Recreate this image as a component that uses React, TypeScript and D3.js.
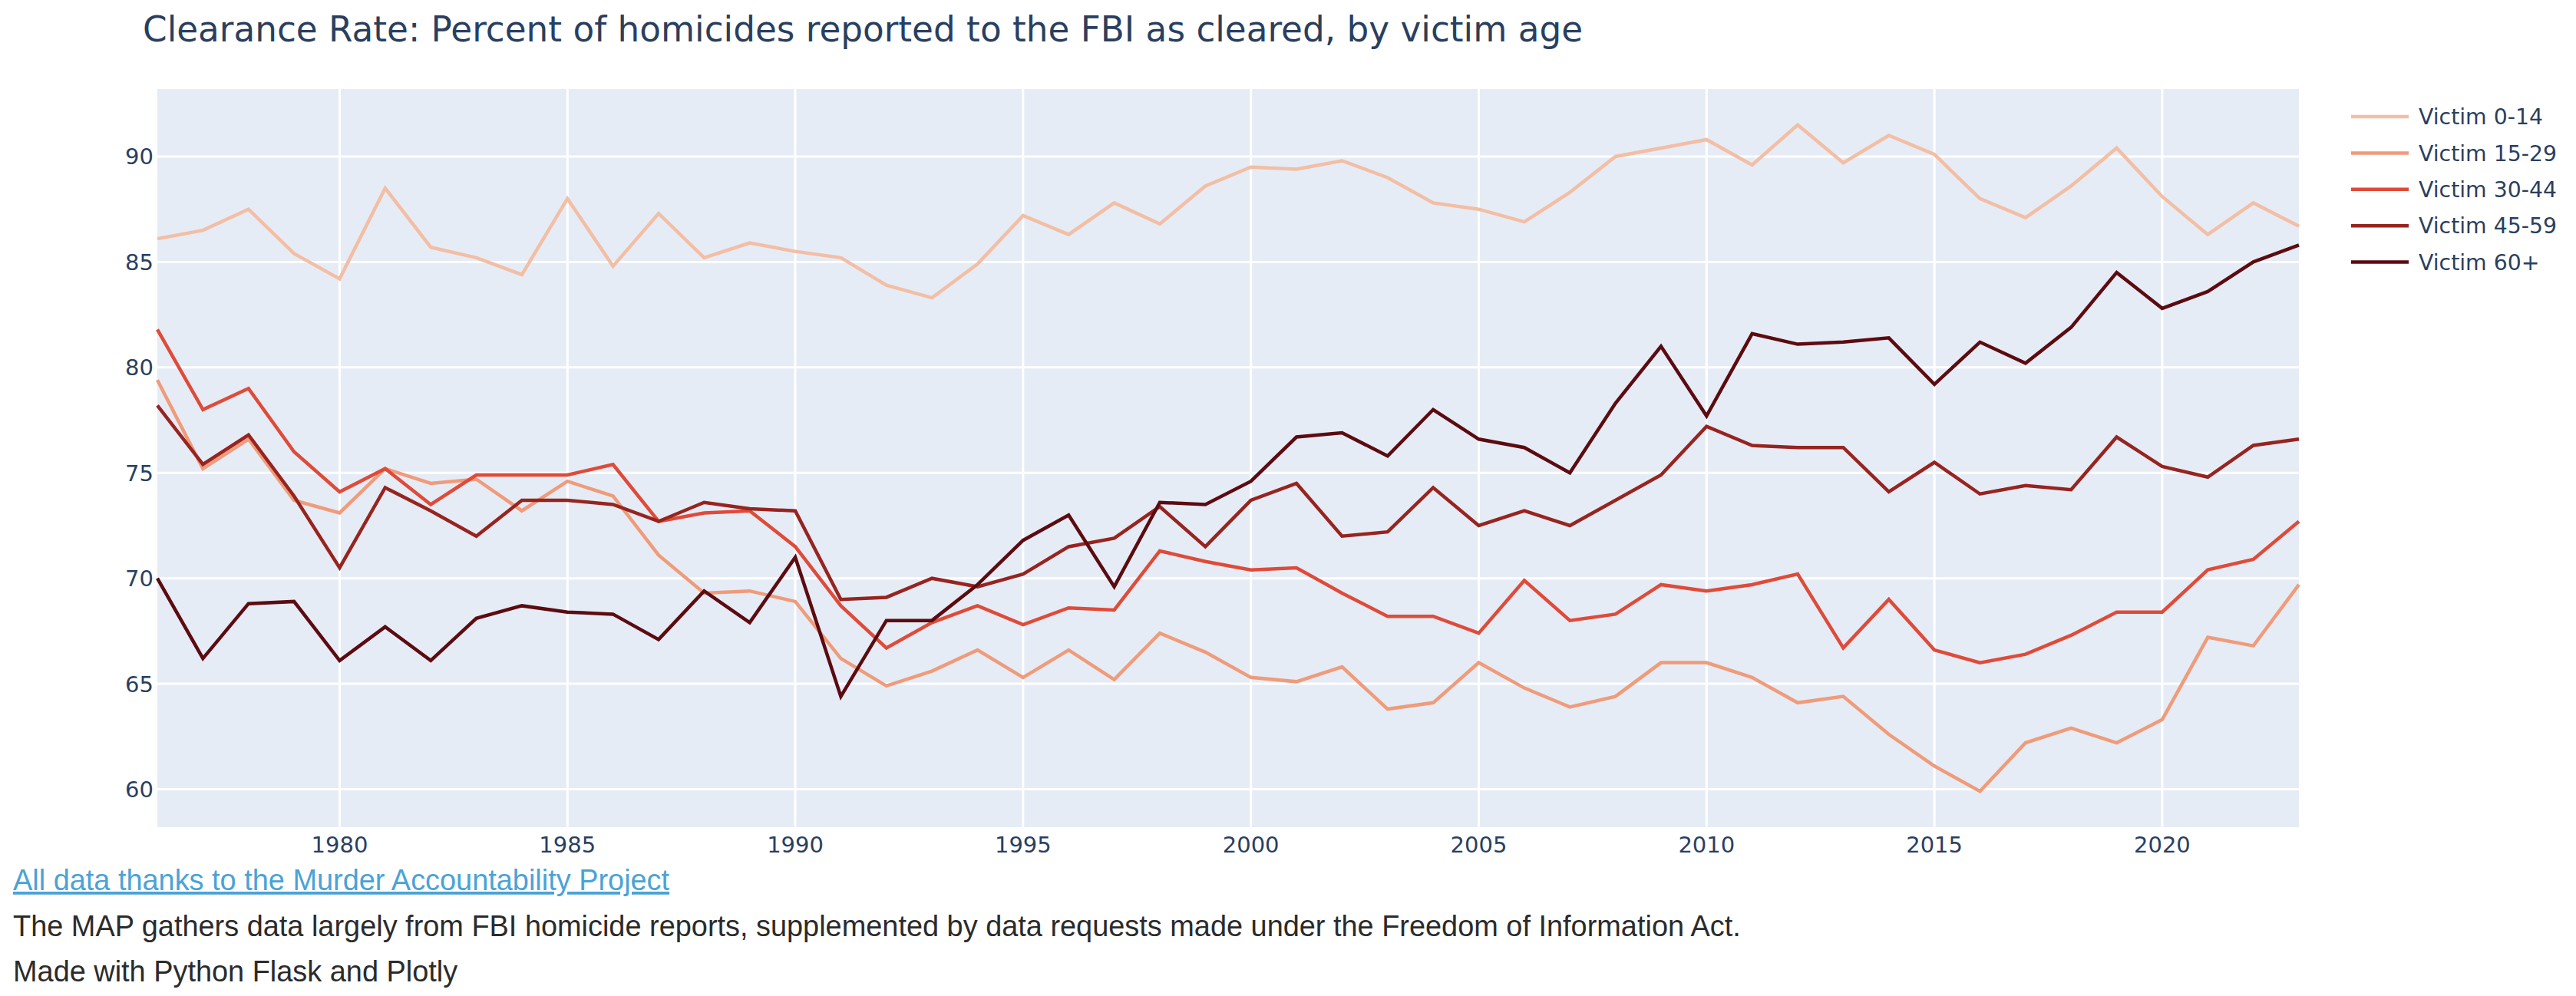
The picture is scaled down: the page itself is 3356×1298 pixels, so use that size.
import * as d3 from "d3";

const years = [
  1976, 1977, 1978, 1979, 1980, 1981, 1982, 1983, 1984, 1985, 1986, 1987,
  1988, 1989, 1990, 1991, 1992, 1993, 1994, 1995, 1996, 1997, 1998, 1999,
  2000, 2001, 2002, 2003, 2004, 2005, 2006, 2007, 2008, 2009, 2010, 2011,
  2012, 2013, 2014, 2015, 2016, 2017, 2018, 2019, 2020, 2021, 2022, 2023,
];

const victim0to14 = [
  86.1, 86.5, 87.5, 85.4, 84.2, 88.5, 85.7, 85.2, 84.4, 88.0, 84.8, 87.3,
  85.2, 85.9, 85.5, 85.2, 83.9, 83.3, 84.9, 87.2, 86.3, 87.8, 86.8, 88.6,
  89.5, 89.4, 89.8, 89.0, 87.8, 87.5, 86.9, 88.3, 90.0, 90.4, 90.8, 89.6,
  91.5, 89.7, 91.0, 90.1, 88.0, 87.1, 88.6, 90.4, 88.1, 86.3, 87.8, 86.7,
];
const victim15to29 = [
  79.4, 75.2, 76.6, 73.7, 73.1, 75.2, 74.5, 74.7, 73.2, 74.6, 73.9, 71.1,
  69.3, 69.4, 68.9, 66.2, 64.9, 65.6, 66.6, 65.3, 66.6, 65.2, 67.4, 66.5,
  65.3, 65.1, 65.8, 63.8, 64.1, 66.0, 64.8, 63.9, 64.4, 66.0, 66.0, 65.3,
  64.1, 64.4, 62.6, 61.1, 59.9, 62.2, 62.9, 62.2, 63.3, 67.2, 66.8, 69.7,
];
const victim30to44 = [
  81.8, 78.0, 79.0, 76.0, 74.1, 75.2, 73.5, 74.9, 74.9, 74.9, 75.4, 72.7,
  73.1, 73.2, 71.5, 68.7, 66.7, 67.9, 68.7, 67.8, 68.6, 68.5, 71.3, 70.8,
  70.4, 70.5, 69.3, 68.2, 68.2, 67.4, 69.9, 68.0, 68.3, 69.7, 69.4, 69.7,
  70.2, 66.7, 69.0, 66.6, 66.0, 66.4, 67.3, 68.4, 68.4, 70.4, 70.9, 72.7,
];
const victim45to59 = [
  78.2, 75.4, 76.8, 73.9, 70.5, 74.3, 73.2, 72.0, 73.7, 73.7, 73.5, 72.7,
  73.6, 73.3, 73.2, 69.0, 69.1, 70.0, 69.6, 70.2, 71.5, 71.9, 73.4, 71.5,
  73.7, 74.5, 72.0, 72.2, 74.3, 72.5, 73.2, 72.5, 73.7, 74.9, 77.2, 76.3,
  76.2, 76.2, 74.1, 75.5, 74.0, 74.4, 74.2, 76.7, 75.3, 74.8, 76.3, 76.6,
];
const victim60plus = [
  70.0, 66.2, 68.8, 68.9, 66.1, 67.7, 66.1, 68.1, 68.7, 68.4, 68.3, 67.1,
  69.4, 67.9, 71.0, 64.4, 68.0, 68.0, 69.7, 71.8, 73.0, 69.6, 73.6, 73.5,
  74.6, 76.7, 76.9, 75.8, 78.0, 76.6, 76.2, 75.0, 78.3, 81.0, 77.7, 81.6,
  81.1, 81.2, 81.4, 79.2, 81.2, 80.2, 81.9, 84.5, 82.8, 83.6, 85.0, 85.8,
];

const seriesNames = ["Victim 0-14", "Victim 15-29", "Victim 30-44", "Victim 45-59", "Victim 60+"];
const seriesValues = [victim0to14, victim15to29, victim30to44, victim45to59, victim60plus];
const seriesColors = ["#f3bea4", "#f09b7a", "#df4b39", "#97241f", "#5c0b10"];

const xTicks = [1980, 1985, 1990, 1995, 2000, 2005, 2010, 2015, 2020];
const yTicks = [60, 65, 70, 75, 80, 85, 90];

const W = 3356;
const H = 1298;
const plot = { left: 205, right: 2995, top: 116, bottom: 1078 };
const fontAxis = "'DejaVu Sans', Verdana, sans-serif";
const fontFoot = "'Liberation Sans', Arial, Helvetica, sans-serif";
const ink = "#2a3f5f";

export default function App() {
  const x = d3.scaleLinear().domain([1976, 2023]).range([plot.left, plot.right]);
  const y = d3.scaleLinear().domain([58.2, 93.2]).range([plot.bottom, plot.top]);

  const line = d3
    .line<number>()
    .x((_, i) => x(years[i]))
    .y((d) => y(d));

  return (
    <div style={{ position: "absolute", left: 0, top: 0, width: W, height: H, background: "#fff" }}>
      <svg width={W} height={H}>
        {/* 제목 */}
        <text x={186} y={54} fontFamily={fontAxis} fontSize={45.3} fill={ink}>
          Clearance Rate: Percent of homicides reported to the FBI as cleared, by victim age
        </text>

        {/* 배경 */}
        <rect
          x={plot.left}
          y={plot.top}
          width={plot.right - plot.left}
          height={plot.bottom - plot.top}
          fill="#e5ecf6"
        />

        {/* 그리드 */}
        {xTicks.map((t) => (
          <line key={"gx" + t} x1={x(t)} x2={x(t)} y1={plot.top} y2={plot.bottom} stroke="#fff" strokeWidth={3} />
        ))}
        {yTicks.map((t) => (
          <line key={"gy" + t} x1={plot.left} x2={plot.right} y1={y(t)} y2={y(t)} stroke="#fff" strokeWidth={3} />
        ))}

        {/* 선 */}
        <g>
          {seriesValues.map((vals, i) => (
            <path key={seriesNames[i]} d={line(vals) || ""} fill="none" stroke={seriesColors[i]} strokeWidth={4.5} />
          ))}
        </g>

        {/* 축 라벨 */}
        {xTicks.map((t) => (
          <text key={"tx" + t} x={x(t)} y={1111} textAnchor="middle" fontFamily={fontAxis} fontSize={29} fill={ink}>
            {t}
          </text>
        ))}
        {yTicks.map((t) => (
          <text
            key={"ty" + t}
            x={200}
            y={y(t)}
            dy="0.36em"
            textAnchor="end"
            fontFamily={fontAxis}
            fontSize={29}
            fill={ink}
          >
            {t}
          </text>
        ))}

        {/* 범례 */}
        {seriesNames.map((name, i) => {
          const ly = 152 + i * 47.4;
          return (
            <g key={"lg" + name}>
              <line x1={3063} x2={3138} y1={ly} y2={ly} stroke={seriesColors[i]} strokeWidth={4.5} />
              <text x={3151} y={ly} dy="0.36em" fontFamily={fontAxis} fontSize={28.3} fill={ink}>
                {name}
              </text>
            </g>
          );
        })}

        {/* 하단 설명 */}
        <text x={17} y={1160} fontFamily={fontFoot} fontSize={37.9} fill="#4aa3d7" textDecoration="underline">
          All data thanks to the Murder Accountability Project
        </text>
        <text x={17} y={1220} fontFamily={fontFoot} fontSize={37.9} fill="#2b2b2b">
          The MAP gathers data largely from FBI homicide reports, supplemented by data requests made under the Freedom of Information Act.
        </text>
        <text x={17} y={1279} fontFamily={fontFoot} fontSize={37.9} fill="#2b2b2b">
          Made with Python Flask and Plotly
        </text>
      </svg>
    </div>
  );
}
